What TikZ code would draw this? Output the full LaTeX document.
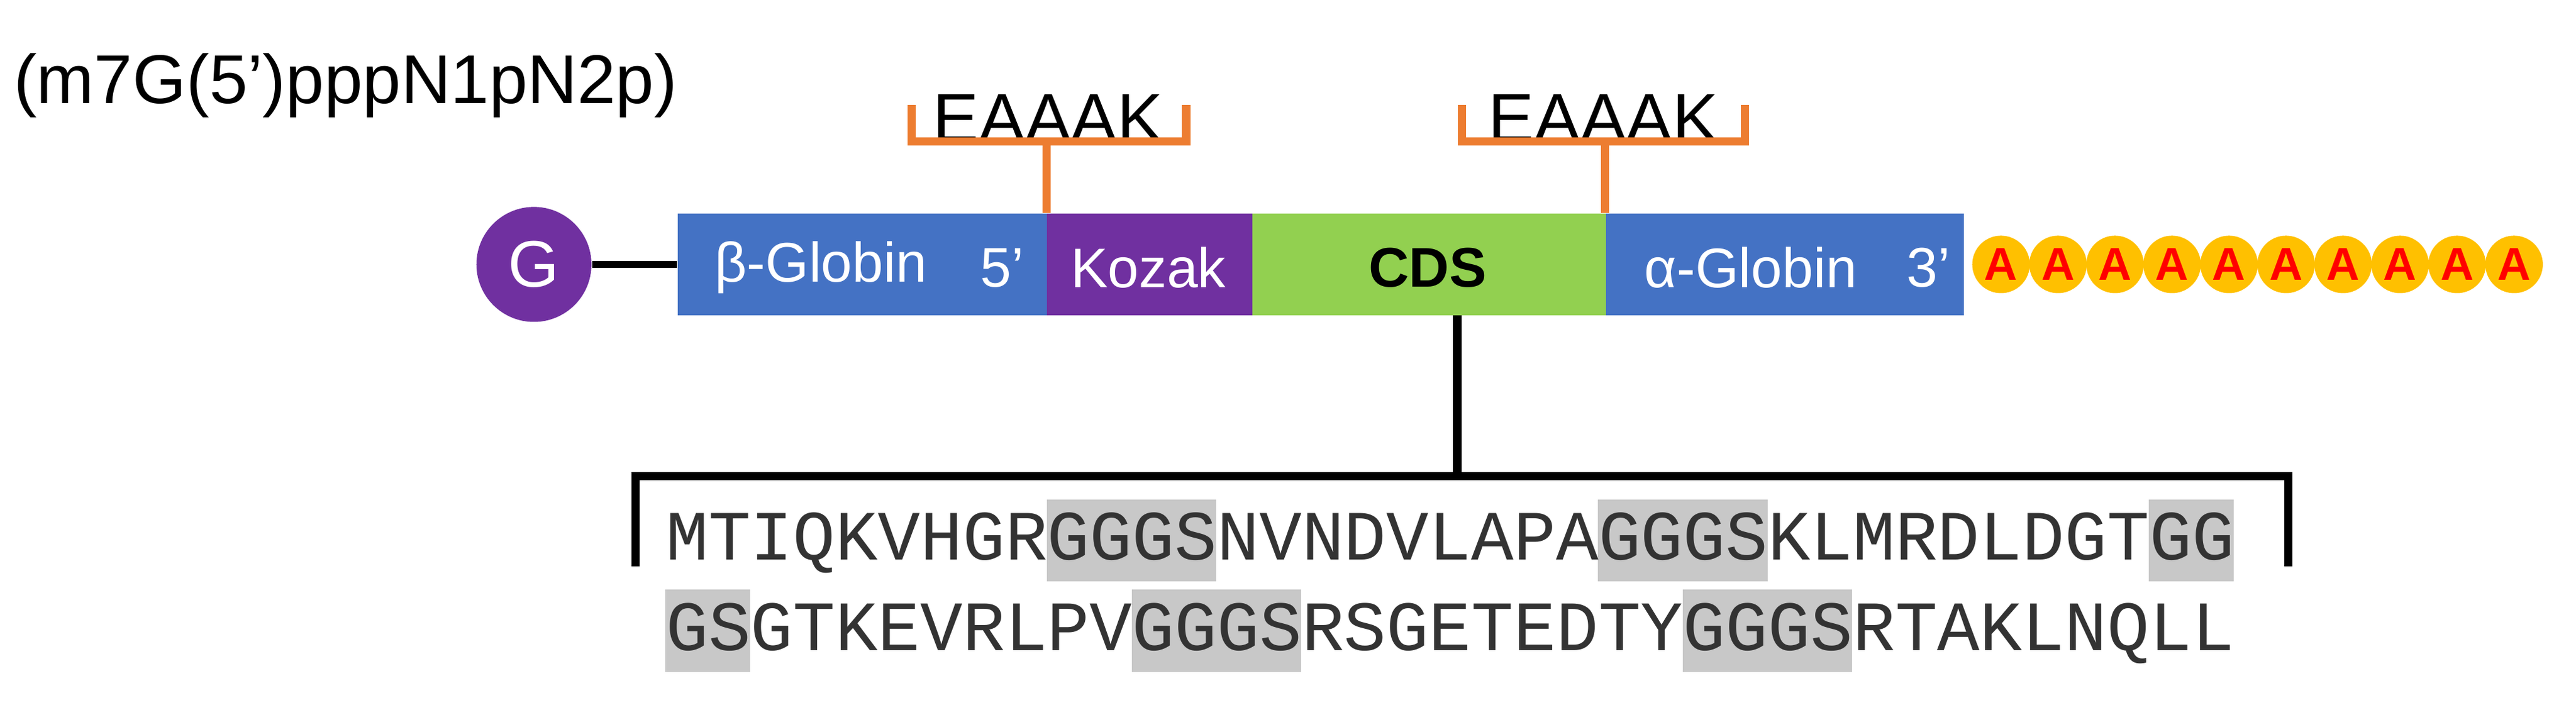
\documentclass[tikz,border=0pt]{standalone}
\usepackage{fontspec}
\setmainfont{Liberation Sans}
\newfontfamily\seqfont{Liberation Mono}
\definecolor{gblue}{HTML}{4472C4}
\definecolor{kpurple}{HTML}{7030A0}
\definecolor{cgreen}{HTML}{92D050}
\definecolor{borange}{HTML}{ED7D31}
\definecolor{ayellow}{HTML}{FFC000}
\definecolor{hgrey}{HTML}{C8C8C8}
\begin{document}
\begin{tikzpicture}[x=0.5pt,y=-0.5pt,
  seg/.style={draw=none,minimum height=31pt,inner sep=0},
  lab/.style={text=white,font=\fontsize{17}{20}\selectfont},
  brk/.style={draw=borange,line width=2.5pt},
  blk/.style={draw=black,line width=2.5pt},
  eaaak/.style={font=\fontsize{21}{24}\selectfont,inner sep=0},
  seq/.style={font=\seqfont\fontsize{21.5}{24}\selectfont,inner sep=0,anchor=base west,text=black!80},
  hl/.style={fill=hgrey,draw=none},
  acirc/.style={circle,fill=ayellow,minimum size=17.5pt,inner sep=0,text=red,font=\bfseries\fontsize{14}{16}\selectfont}]
\useasboundingbox (0,0) rectangle (1568,432);
\node[anchor=west,font=\fontsize{21}{24}\selectfont,inner sep=0] (title) at (8,52) {(m7G(5')pppN1pN2p)};
% segments
\node[seg,fill=gblue,minimum width=112.5pt,anchor=west] (bg) at (412,161) {};
\node[seg,fill=kpurple,minimum width=62.5pt,anchor=west] (kz) at (637,161) {};
\node[seg,fill=cgreen,minimum width=107.5pt,anchor=west] (cds) at (762,161) {};
\node[seg,fill=gblue,minimum width=109pt,anchor=west] (ag) at (977,161) {};
\node[lab,anchor=west] at (428,163) {β-Globin};
\node[lab] at (610,163) {5’};
\node[lab] at (699,163) {Kozak};
\node[font=\bfseries\fontsize{17}{20}\selectfont] at (869,163) {CDS};
\node[lab,anchor=west] at (994,163) {α-Globin};
\node[lab] at (1174,163) {3’};
% cap
\node[circle,fill=kpurple,minimum size=35pt,inner sep=0,text=white,font=\fontsize{20}{22}\selectfont] (g) at (325,161) {G};
\draw[blk,line width=2pt] (g.east) -- (bg.west);
% poly A
\foreach \i in {0,...,9} \node[acirc] (a\i) at (1218+\i*34.7,161) {A};
% EAAAK brackets
\node[eaaak] (e1) at (638,72) {EAAAK};
\coordinate (b1) at (637,86);
\draw[brk] (555,64) -- (555,86) -- (722,86) -- (722,64);
\draw[brk] (b1) -- (kz.north west);
\node[eaaak] (e2) at (976,72) {EAAAK};
\coordinate (b2) at (977,86);
\draw[brk] (890,64) -- (890,86) -- (1062,86) -- (1062,64);
\draw[brk] (b2) -- (ag.north west);
% CDS expansion
\coordinate (c1) at (887,290);
\draw[blk] (887,192) -- (c1);
\draw[blk] (387,345) -- (387,290) -- (1393,290) -- (1393,345);
% highlights
\def\cw{25.8}
\foreach \s/\n in {9/4,22/4,35/2} \fill[hl] (405+\s*\cw,304) rectangle (405+\s*\cw+\n*\cw,354);
\foreach \s/\n in {0/2,11/4,24/4} \fill[hl] (405+\s*\cw,359) rectangle (405+\s*\cw+\n*\cw,409);
\node[seq] (s1) at (405,341) {MTIQKVHGRGGGSNVNDVLAPAGGGSKLMRDLDGTGG};
\node[seq] (s2) at (405,396) {GSGTKEVRLPVGGGSRSGETEDTYGGGSRTAKLNQLL};
\end{tikzpicture}
\end{document}
